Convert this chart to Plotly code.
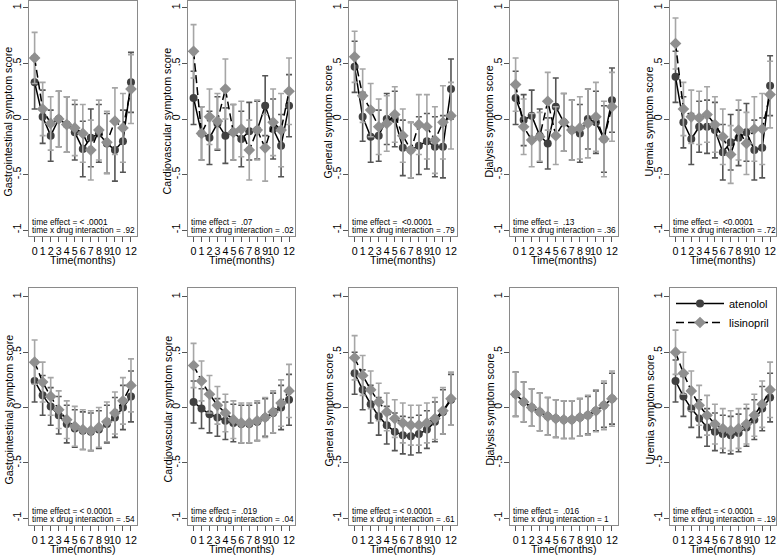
import plotly.graph_objects as go

# ---------------- data ----------------
months = list(range(13))
x_tick_text = ["0", "1", "2", "3", "4", "5", "6", "7", "8", "9", "10", "", "12"]
y_tick_vals = [-1, -0.5, 0, 0.5, 1]
y_tick_text = ["-1", "-.5", "0", ".5", "1"]

# top row
gi1_ate = [0.33, 0.02, -0.15, 0.00, -0.05, -0.12, -0.27, -0.17, -0.13, -0.22, -0.28, -0.20, 0.33]
gi1_lis = [0.55, 0.09, -0.04, 0.00, -0.05, -0.08, -0.13, -0.28, -0.10, -0.21, -0.02, -0.08, 0.27]
gi1_ate_err = [0.24, 0.24, 0.23, 0.25, 0.25, 0.25, 0.25, 0.26, 0.26, 0.27, 0.28, 0.28, 0.27]
gi1_lis_err = [0.23, 0.24, 0.24, 0.25, 0.25, 0.25, 0.26, 0.27, 0.27, 0.28, 0.30, 0.31, 0.31]

cv1_ate = [0.19, -0.13, -0.17, -0.04, -0.15, -0.12, -0.18, -0.11, -0.10, 0.12, -0.09, -0.24, 0.12]
cv1_lis = [0.61, -0.13, 0.02, -0.02, 0.27, -0.12, -0.09, -0.28, -0.10, -0.26, -0.03, -0.10, 0.25]
cv1_ate_err = [0.24, 0.24, 0.24, 0.24, 0.25, 0.25, 0.25, 0.26, 0.26, 0.27, 0.27, 0.28, 0.28]
cv1_lis_err = [0.24, 0.24, 0.25, 0.25, 0.27, 0.25, 0.25, 0.27, 0.27, 0.30, 0.30, 0.33, 0.30]

ge1_ate = [0.47, 0.02, -0.16, -0.15, 0.00, 0.00, -0.26, -0.28, -0.24, -0.20, -0.25, -0.25, 0.27]
ge1_lis = [0.56, 0.21, 0.08, -0.07, -0.04, 0.04, -0.15, -0.28, -0.05, -0.07, -0.19, -0.03, 0.03]
ge1_ate_err = [0.23, 0.22, 0.23, 0.23, 0.23, 0.25, 0.25, 0.25, 0.26, 0.25, 0.27, 0.28, 0.27]
ge1_lis_err = [0.23, 0.24, 0.24, 0.25, 0.25, 0.25, 0.24, 0.25, 0.27, 0.29, 0.30, 0.33, 0.30]

di1_ate = [0.19, -0.01, 0.03, -0.15, -0.22, 0.11, -0.03, -0.10, -0.13, 0.00, -0.03, -0.18, 0.17]
di1_lis = [0.31, -0.07, -0.19, -0.16, 0.16, -0.15, -0.03, -0.10, -0.08, -0.04, 0.02, -0.18, 0.11]
di1_ate_err = [0.24, 0.23, 0.23, 0.24, 0.23, 0.26, 0.26, 0.27, 0.26, 0.27, 0.28, 0.30, 0.29]
di1_lis_err = [0.24, 0.25, 0.24, 0.22, 0.26, 0.26, 0.26, 0.27, 0.28, 0.31, 0.31, 0.34, 0.31]

ur1_ate = [0.38, -0.03, -0.18, -0.07, -0.07, -0.10, -0.30, -0.21, -0.17, -0.12, -0.28, -0.26, 0.30]
ur1_lis = [0.68, 0.09, 0.02, 0.01, 0.04, -0.05, -0.16, -0.32, -0.10, -0.22, -0.09, -0.09, 0.22]
ur1_ate_err = [0.23, 0.23, 0.23, 0.23, 0.24, 0.25, 0.25, 0.25, 0.25, 0.26, 0.27, 0.27, 0.27]
ur1_lis_err = [0.23, 0.24, 0.24, 0.24, 0.25, 0.25, 0.25, 0.26, 0.27, 0.28, 0.29, 0.32, 0.30]

# bottom row
gi2_ate = [0.24, 0.11, 0.01, -0.07, -0.15, -0.19, -0.21, -0.22, -0.20, -0.15, -0.09, 0.00, 0.10]
gi2_lis = [0.41, 0.23, 0.10, -0.02, -0.11, -0.17, -0.20, -0.21, -0.18, -0.13, -0.05, 0.06, 0.20]
gi2_ate_err = [0.19, 0.18, 0.17, 0.17, 0.17, 0.17, 0.17, 0.17, 0.17, 0.17, 0.18, 0.20, 0.23]
gi2_lis_err = [0.20, 0.18, 0.17, 0.17, 0.17, 0.18, 0.18, 0.18, 0.18, 0.18, 0.19, 0.21, 0.24]

cv2_ate = [0.05, -0.01, -0.06, -0.09, -0.12, -0.14, -0.15, -0.15, -0.13, -0.09, -0.05, 0.00, 0.07]
cv2_lis = [0.38, 0.24, 0.12, 0.02, -0.05, -0.11, -0.14, -0.14, -0.12, -0.09, -0.04, 0.04, 0.15]
cv2_ate_err = [0.19, 0.18, 0.17, 0.17, 0.17, 0.17, 0.17, 0.17, 0.17, 0.17, 0.18, 0.20, 0.23]
cv2_lis_err = [0.20, 0.18, 0.17, 0.17, 0.17, 0.17, 0.18, 0.18, 0.18, 0.18, 0.19, 0.21, 0.24]

ge2_ate = [0.31, 0.16, 0.03, -0.08, -0.16, -0.22, -0.25, -0.26, -0.24, -0.20, -0.13, -0.04, 0.07]
ge2_lis = [0.45, 0.29, 0.16, 0.05, -0.04, -0.10, -0.14, -0.16, -0.16, -0.14, -0.10, -0.03, 0.08]
ge2_ate_err = [0.19, 0.18, 0.17, 0.17, 0.17, 0.17, 0.17, 0.17, 0.17, 0.17, 0.18, 0.20, 0.23]
ge2_lis_err = [0.20, 0.18, 0.17, 0.17, 0.17, 0.17, 0.18, 0.18, 0.18, 0.18, 0.19, 0.21, 0.24]

di2_ate = [0.12, 0.05, 0.00, -0.04, -0.08, -0.10, -0.11, -0.11, -0.09, -0.07, -0.03, 0.02, 0.08]
di2_lis = [0.12, 0.05, 0.00, -0.04, -0.08, -0.10, -0.11, -0.11, -0.09, -0.07, -0.03, 0.02, 0.08]
di2_ate_err = [0.20, 0.18, 0.17, 0.17, 0.17, 0.17, 0.17, 0.17, 0.17, 0.17, 0.18, 0.20, 0.23]
di2_lis_err = [0.20, 0.18, 0.17, 0.17, 0.17, 0.17, 0.17, 0.17, 0.17, 0.18, 0.19, 0.22, 0.25]

ur2_ate = [0.24, 0.10, -0.01, -0.10, -0.18, -0.22, -0.24, -0.25, -0.23, -0.18, -0.11, -0.01, 0.09]
ur2_lis = [0.50, 0.31, 0.15, 0.02, -0.07, -0.15, -0.19, -0.21, -0.19, -0.15, -0.07, 0.03, 0.16]
ur2_ate_err = [0.19, 0.18, 0.17, 0.17, 0.17, 0.17, 0.17, 0.17, 0.17, 0.17, 0.18, 0.20, 0.22]
ur2_lis_err = [0.20, 0.19, 0.18, 0.18, 0.18, 0.18, 0.18, 0.18, 0.18, 0.18, 0.19, 0.21, 0.25]

y_titles = ["Gastrointestinal symptom score", "Cardiovascular symptom score",
            "General symptom score", "Dialysis symptom score", "Uremia symptom score"]
time_effect = ["< .0001", "\u00a0.07", "\u00a0<0.0001", "\u00a0.13", "\u00a0<0.0001",
               "< 0.0001", "\u00a0.019", "< 0.0001", "\u00a0.016", "< 0.0001"]
interaction = [".92", ".02", ".79", ".36", ".72", ".54", ".04", ".61", "1", ".19"]

panels = [
    (gi1_ate, gi1_ate_err, gi1_lis, gi1_lis_err),
    (cv1_ate, cv1_ate_err, cv1_lis, cv1_lis_err),
    (ge1_ate, ge1_ate_err, ge1_lis, ge1_lis_err),
    (di1_ate, di1_ate_err, di1_lis, di1_lis_err),
    (ur1_ate, ur1_ate_err, ur1_lis, ur1_lis_err),
    (gi2_ate, gi2_ate_err, gi2_lis, gi2_lis_err),
    (cv2_ate, cv2_ate_err, cv2_lis, cv2_lis_err),
    (ge2_ate, ge2_ate_err, ge2_lis, ge2_lis_err),
    (di2_ate, di2_ate_err, di2_lis, di2_lis_err),
    (ur2_ate, ur2_ate_err, ur2_lis, ur2_lis_err),
]

# ---------------- layout geometry (pixels) ----------------
W, H = 780, 555
FONT = "Liberation Sans, Arial, sans-serif"
col_px = [(29, 137), (188, 295), (349, 457), (510, 618), (670, 776)]
row_px = [(1, 236), (288, 525)]
y_ranges = [(-1.054, 1.063), (-1.063, 1.081)]
x_range = (-0.7, 12.75)

ATE_MARK = "#404040"
LIS_MARK = "#8f8f8f"
ATE_ERR = "#555555"
LIS_ERR = "#a6a6a6"

fig = go.Figure()
layout = dict(
    width=W, height=H,
    margin=dict(l=0, r=0, t=0, b=0),
    paper_bgcolor="white", plot_bgcolor="white",
    font=dict(family=FONT, size=11, color="black"),
    showlegend=True,
    legend=dict(x=671 / W, y=1 - 289 / H, xanchor="left", yanchor="top",
                bgcolor="rgba(0,0,0,0)", font=dict(size=11),
                tracegroupgap=0, itemwidth=48),
)
annotations = []

for i, (ate, ate_err, lis, lis_err) in enumerate(panels):
    r, c = divmod(i, 5)
    n = i + 1
    xa = "x" if n == 1 else f"x{n}"
    ya = "y" if n == 1 else f"y{n}"
    x0, x1 = col_px[c]
    y0, y1 = row_px[r]
    xdom = [x0 / W, x1 / W]
    ydom = [1 - y1 / H, 1 - y0 / H]

    fig.add_trace(go.Scatter(
        x=months, y=ate, mode="lines+markers", name="atenolol",
        xaxis=xa, yaxis=ya, showlegend=(n == 10),
        line=dict(color="black", width=1.5),
        marker=dict(symbol="circle", size=8, color=ATE_MARK),
        error_y=dict(type="data", array=ate_err, color=ATE_ERR, thickness=1.6, width=3),
    ))
    fig.add_trace(go.Scatter(
        x=months, y=lis, mode="lines+markers", name="lisinopril",
        xaxis=xa, yaxis=ya, showlegend=(n == 10),
        line=dict(color="black", width=1.5, dash="8px,4px"),
        marker=dict(symbol="diamond", size=9, color=LIS_MARK),
        error_y=dict(type="data", array=lis_err, color=LIS_ERR, thickness=1.6, width=3),
    ))

    axis_common = dict(showgrid=False, zeroline=False, showline=True, mirror=True,
                       linecolor="#8a8a8a", linewidth=1, ticks="outside", ticklen=5,
                       tickwidth=1, tickcolor="#555555", tickfont=dict(size=10.7))
    layout["xaxis" if n == 1 else f"xaxis{n}"] = dict(
        axis_common, domain=xdom, anchor=ya, range=list(x_range),
        tickmode="array", tickvals=months, ticktext=x_tick_text, tickangle=0)
    layout["yaxis" if n == 1 else f"yaxis{n}"] = dict(
        axis_common, domain=ydom, anchor=xa, range=list(y_ranges[r]),
        tickmode="array", tickvals=y_tick_vals, ticktext=y_tick_text, tickangle=-90,
        ticklabelstandoff=-2)

    # y title
    annotations.append(dict(
        text=y_titles[c], xref="paper", yref="paper",
        x=(x0 - 21) / W, y=1 - ((y0 + y1) / 2 + 3) / H, textangle=-90,
        showarrow=False, font=dict(size=10.7), xanchor="center", yanchor="middle"))
    # x title
    annotations.append(dict(
        text="Time(months)", xref="paper", yref="paper",
        x=(x0 + x1) / 2 / W, y=1 - (y1 + 24) / H,
        showarrow=False, font=dict(size=10.7), xanchor="center", yanchor="middle"))
    # stats text
    annotations.append(dict(
        text="time effect = " + time_effect[i], xref="paper", yref="paper",
        x=(x0 + 1) / W, y=1 - (y1 - 14) / H, showarrow=False,
        font=dict(size=8.3), xanchor="left", yanchor="middle"))
    annotations.append(dict(
        text="time x drug interaction = " + interaction[i], xref="paper", yref="paper",
        x=(x0 + 1) / W, y=1 - (y1 - 6) / H, showarrow=False,
        font=dict(size=8.3), xanchor="left", yanchor="middle"))

layout["annotations"] = annotations
fig.update_layout(**layout)
fig.write_html("out.html", config={"displayModeBar": False},
               post_script="document.body.style.margin='0px';document.body.style.padding='0px';")
